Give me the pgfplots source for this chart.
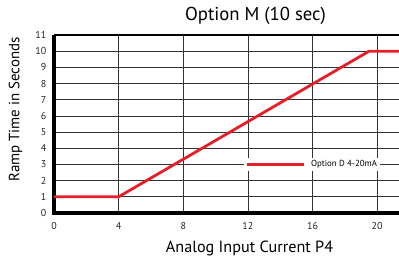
\documentclass[border=0pt]{standalone}
\usepackage{pgfplots}
\pgfplotsset{compat=1.18}
\usepackage{fontspec}
\setmainfont{PT Sans}
\definecolor{redline}{RGB}{230,30,40}
\begin{document}
\begin{tikzpicture}[x=1pt,y=1pt]
\useasboundingbox (0,0) rectangle (399,266);
\begin{axis}[
  at={(54pt,53pt)}, anchor=origin,
  scale only axis, width=345pt, height=178pt,
  xmin=0, xmax=21.35, ymin=0, ymax=11,
  xtick={0,4,8,12,16,20}, ytick={0,1,...,11},
  axis x line=bottom, axis y line=left,
  axis line style={line width=3.2pt,-},
  x axis line style={shorten <=-1.6pt},
  grid=major, major grid style={black!80, line width=0.7pt},
  tick style={draw=none},
  /pgf/number format/assume math mode=true,
  tick label style={font=\fontsize{10}{10}\selectfont, text=black!85},
  xticklabel style={yshift=-4pt},
  yticklabel style={xshift=-2pt},
  clip=false,
  legend style={at={(axis cs:11.75,3)}, anchor=west, draw=none, fill=white,
    font=\fontsize{8.8}{9}\selectfont, inner sep=1pt},
  legend cell align=left,
  legend image code/.code={\draw[#1, line width=3pt] (0pt,0pt) -- (57pt,0pt);},
  legend style={/tikz/every odd column/.append style={column sep=4pt}},
  title={Option M (10 sec)},
  title style={font=\fontsize{18.7}{18.7}\selectfont, at={(axis cs:12.47,11)}, anchor=south, yshift=1pt},
  xlabel={Analog Input Current P4},
  xlabel style={font=\fontsize{16.2}{16.2}\selectfont, at={(axis cs:12.1,0)}, anchor=north, yshift=-24pt},
  ylabel={Ramp Time in Seconds},
  ylabel style={font=\fontsize{14.9}{14.9}\selectfont, at={(axis cs:0,6.4)}, anchor=south, yshift=28pt},
]
\draw[black, line width=2.2pt] (axis cs:0,11) -- (axis cs:21.35,11);
\addplot[redline, line width=2.8pt, line join=round] coordinates {(0,1) (4,1) (19.5,10) (21.35,10)};
\addlegendentry{Option D 4-20mA}
\end{axis}
\end{tikzpicture}
\end{document}
